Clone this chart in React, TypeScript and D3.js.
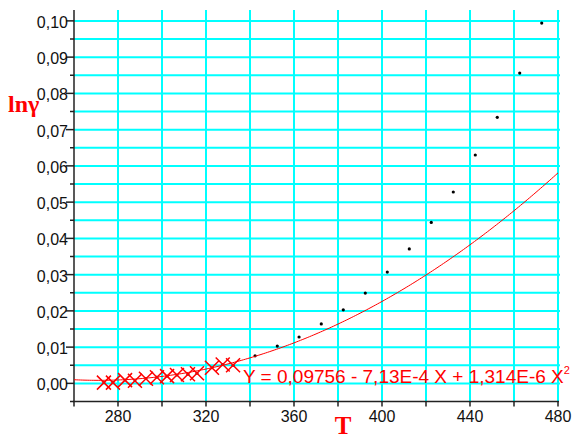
import React from "react";
import * as d3 from "d3";

// Measured points: temperature T (K) and ln(gamma)
const fitT = [273.6, 277.7, 283.2, 287.7, 292.7, 297.7, 302.3, 306.8, 311.8, 315.9, 322.7, 327.6, 332.3];
const fitLnGamma = [0.0002, 0.0002, 0.0009, 0.0007, 0.0013, 0.0017, 0.002, 0.0023, 0.0025, 0.0028, 0.0043, 0.0052, 0.005];

const extraT = [342.3, 352.4, 362.3, 372.4, 382.4, 392.4, 402.4, 412.4, 422.4, 432.4, 442.4, 452.4, 462.6, 472.6];
const extraLnGamma = [0.0076, 0.0103, 0.0128, 0.0164, 0.0203, 0.0249, 0.0307, 0.0371, 0.0444, 0.0528, 0.063, 0.0734, 0.0856, 0.0994];

// Quadratic fit: Y = a + b X + c X^2
const fitCoefs = [0.09756, -7.13e-4, 1.314e-6];

const xTicks = [260, 280, 300, 320, 340, 360, 380, 400, 420, 440, 460, 480];
const xLabels = [280, 320, 360, 400, 440, 480];
const yLabels = [0, 0.01, 0.02, 0.03, 0.04, 0.05, 0.06, 0.07, 0.08, 0.09, 0.1];
const yGrid = [0, 0.005, 0.01, 0.015, 0.02, 0.025, 0.03, 0.035, 0.04, 0.045, 0.05, 0.055, 0.06, 0.065, 0.07, 0.075, 0.08, 0.085, 0.09, 0.095, 0.1];

const W = 576;
const H = 436;

export default function App() {
  const x = d3.scaleLinear().domain([260, 480]).range([74, 558]);
  const y = d3.scaleLinear().domain([-0.005, 0.103]).range([401.5, 10]);

  const fmt = (v: number) => d3.format(".2f")(v).replace(".", ",");
  const poly = (t: number) => fitCoefs[0] + fitCoefs[1] * t + fitCoefs[2] * t * t;

  const curveT = d3.range(260, 480.01, 1);
  const line = d3
    .line<number>()
    .x((t) => x(t))
    .y((t) => y(poly(t)));

  const sans = "'Liberation Sans', Arial, sans-serif";
  const serif = "'Liberation Serif', 'Times New Roman', serif";
  const cyan = "#00ffff";
  const axisColor = "#222";

  const [x0, x1] = x.range();
  const yTop = y(0.103);
  const yBottom = y(-0.005);

  return (
    <svg
      width={W}
      height={H}
      viewBox={`0 0 ${W} ${H}`}
      style={{ position: "absolute", left: 0, top: 0, background: "#fff" }}
    >
      {/* grid */}
      <g>
        {yGrid.map((v) => (
          <line key={"h" + v} x1={x0} x2={x1 + 2} y1={y(v)} y2={y(v)} stroke={cyan} strokeWidth={2} />
        ))}
        {xTicks
          .filter((t) => t > 260)
          .map((t) => (
            <line key={"v" + t} x1={x(t)} x2={x(t)} y1={yTop} y2={yBottom} stroke={cyan} strokeWidth={2} />
          ))}
      </g>

      {/* axes */}
      <line x1={x0} x2={x0} y1={yTop} y2={yBottom} stroke={axisColor} strokeWidth={1.5} />
      <line x1={x0 - 1} x2={x1 + 1} y1={yBottom} y2={yBottom} stroke={axisColor} strokeWidth={1.5} />

      {yGrid.map((v) => {
        const major = Math.abs(v * 100 - Math.round(v * 100)) < 1e-6;
        return (
          <line
            key={"yt" + v}
            x1={x0 - (major ? 8 : 4)}
            x2={x0}
            y1={y(v)}
            y2={y(v)}
            stroke={axisColor}
            strokeWidth={1.5}
          />
        );
      })}
      <line x1={x0 - 4} x2={x0} y1={yBottom} y2={yBottom} stroke={axisColor} strokeWidth={1.5} />

      {xTicks.map((t) => (
        <line key={"xt" + t} x1={x(t)} x2={x(t)} y1={yBottom} y2={yBottom + 5} stroke={axisColor} strokeWidth={1.5} />
      ))}

      {yLabels.map((v) => (
        <text
          key={"yl" + v}
          x={68}
          y={y(v) + 7}
          textAnchor="end"
          fontFamily={sans}
          fontSize={16}
          fill="#111"
        >
          {fmt(v)}
        </text>
      ))}

      {xLabels.map((t) => (
        <text key={"xl" + t} x={x(t)} y={422} textAnchor="middle" fontFamily={sans} fontSize={16} fill="#111">
          {t}
        </text>
      ))}

      {/* axis titles */}
      <text x={8} y={112} fontFamily={serif} fontWeight="bold" fontSize={24} fill="#ff0000">
        lnγ
      </text>
      <text x={343} y={434} textAnchor="middle" fontFamily={serif} fontWeight="bold" fontSize={25} fill="#ff0000">
        T
      </text>

      {/* points */}
      {extraT.map((t, i) => (
        <circle key={"d" + i} cx={x(t)} cy={y(extraLnGamma[i])} r={1.6} fill="#000" />
      ))}
      {fitT.map((t, i) => (
        <circle key={"fd" + i} cx={x(t)} cy={y(fitLnGamma[i])} r={1.4} fill="#000" />
      ))}

      {/* fitted curve */}
      <path d={line(curveT) ?? ""} fill="none" stroke="#ff0000" strokeWidth={1} />

      {/* fitted points as crosses */}
      {fitT.map((t, i) => {
        const cx = x(t);
        const cy = y(fitLnGamma[i]);
        const s = 7;
        return (
          <path
            key={"c" + i}
            d={`M${cx - s},${cy - s}L${cx + s},${cy + s}M${cx - s},${cy + s}L${cx + s},${cy - s}`}
            stroke="#ff0000"
            strokeWidth={1.5}
            fill="none"
          />
        );
      })}

      {/* fit equation */}
      <text x={243} y={383} fontFamily={sans} fontSize={19} fill="#ff0000">
        Y = 0,09756 - 7,13E-4 X + 1,314E-6 X
        <tspan fontSize={11} dy={-9}>
          2
        </tspan>
      </text>
    </svg>
  );
}
